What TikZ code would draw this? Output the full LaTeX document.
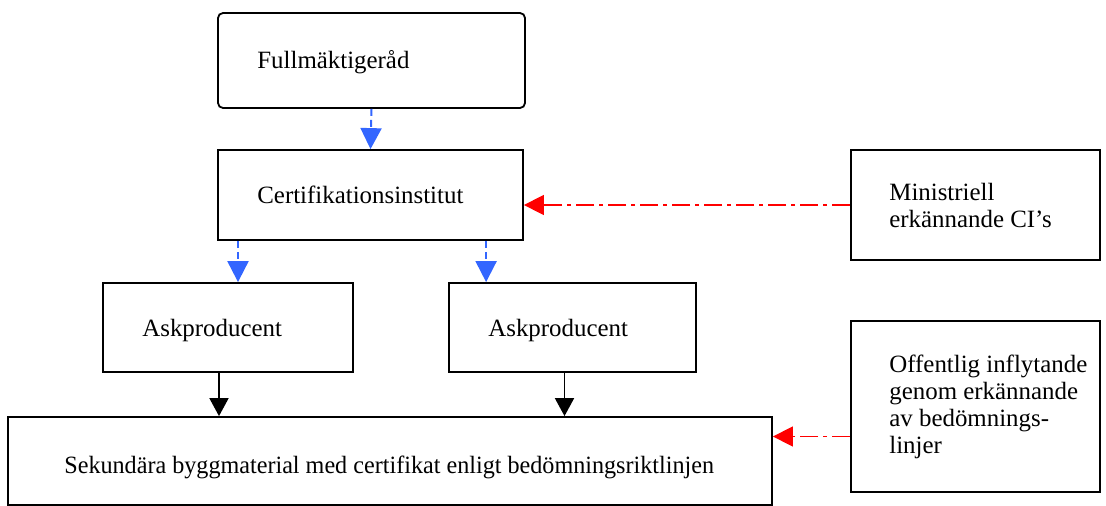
\documentclass[tikz,border=0pt]{standalone}
\usepackage{fontspec}
\setmainfont{Liberation Serif}
\newfontfamily\narrowfont{Liberation Serif}[FakeStretch=0.97]
\usetikzlibrary{arrows.meta}
\def\px{0.025cm}
\tikzset{
      box/.style = { draw, line width=1.8*\px, inner sep=0pt },
      txt/.style = { anchor=west, align=left, inner sep=0pt,
                     font=\fontsize{17.7}{19.2}\selectfont },
  bluearrow/.style = { line width=2*\px, color={rgb,255:red,51;green,102;blue,255},
                     dash pattern=on 7*\px off 4*\px,
                     -{Triangle[length=21*\px,width=21*\px]} },
  redarrow/.style  = { line width=1.5*\px, color=red,
                     dash pattern=on 18*\px off 5*\px on 4*\px off 5*\px,
                     -{Triangle[length=20*\px,width=20*\px]} },
  blackarrow/.style = { line width=1.8*\px,
                     -{Triangle[length=18*\px,width=19*\px]} }
}

\begin{document}
\begin{tikzpicture}[x=\px, y=-\px]
  \useasboundingbox (0,0) rectangle (1106,506);

  % boxes
  \node[box, rounded corners=5*\px, minimum width=307*\px, minimum height=95*\px]
    (full) at (371.5,60.5) {};
  \node[box, minimum width=305*\px, minimum height=90*\px] (cert) at (370.5,195) {};
  \node[box, minimum width=249*\px, minimum height=110*\px] (min) at (975.5,205) {};
  \node[box, minimum width=250*\px, minimum height=89*\px] (askL) at (228,327.5) {};
  \node[box, minimum width=247*\px, minimum height=89*\px] (askR) at (572.5,327.5) {};
  \node[box, minimum width=764*\px, minimum height=88*\px] (sek) at (390,461) {};
  \node[box, minimum width=249*\px, minimum height=171*\px] (off) at (975.5,406.5) {};

  % texts
  \node[txt] (full-t) at ([xshift=40*\px,yshift=-2*\px]full.west) {Fullmäktigeråd};
  \node[txt] (cert-t) at ([xshift=40*\px]cert.west) {Certifikationsinstitut};
  \node[txt] (min-t)  at ([xshift=39*\px]min.west) {Ministriell\\erkännande CI’s};
  \node[txt] (askL-t) at ([xshift=40*\px,yshift=-3*\px]askL.west) {Askproducent};
  \node[txt] (askR-t) at ([xshift=40*\px,yshift=-3*\px]askR.west) {Askproducent};
  \node[txt] (sek-t)  at ([xshift=57*\px,yshift=-6*\px]sek.west)
    {\narrowfont Sekundära byggmaterial med certifikat enligt bedömningsriktlinjen};
  \node[txt] (off-t)  at ([xshift=39*\px]off.west)
    {Offentlig inflytande\\genom erkännande\\av bedömnings-\\linjer};

  % arrows
  \draw[bluearrow] (full.south) -- (cert.north);
  \draw[bluearrow] ([xshift=10*\px]askL.north |- cert.south) -- ([xshift=10*\px]askL.north);
  \draw[bluearrow] ([xshift=38*\px]askR.north west |- cert.south) -- ([xshift=38*\px]askR.north west);
  \draw[blackarrow] ([xshift=-9*\px]askL.south) -- ([xshift=-9*\px]askL.south |- sek.north);
  \draw[blackarrow] ([xshift=-8*\px]askR.south) -- ([xshift=-8*\px]askR.south |- sek.north);
  \draw[redarrow] (min.west) -- (min.west -| cert.east);
  \draw[redarrow] ([yshift=-30*\px]off.west) -- ([yshift=-30*\px]off.west -| sek.east);
\end{tikzpicture}
\end{document}
